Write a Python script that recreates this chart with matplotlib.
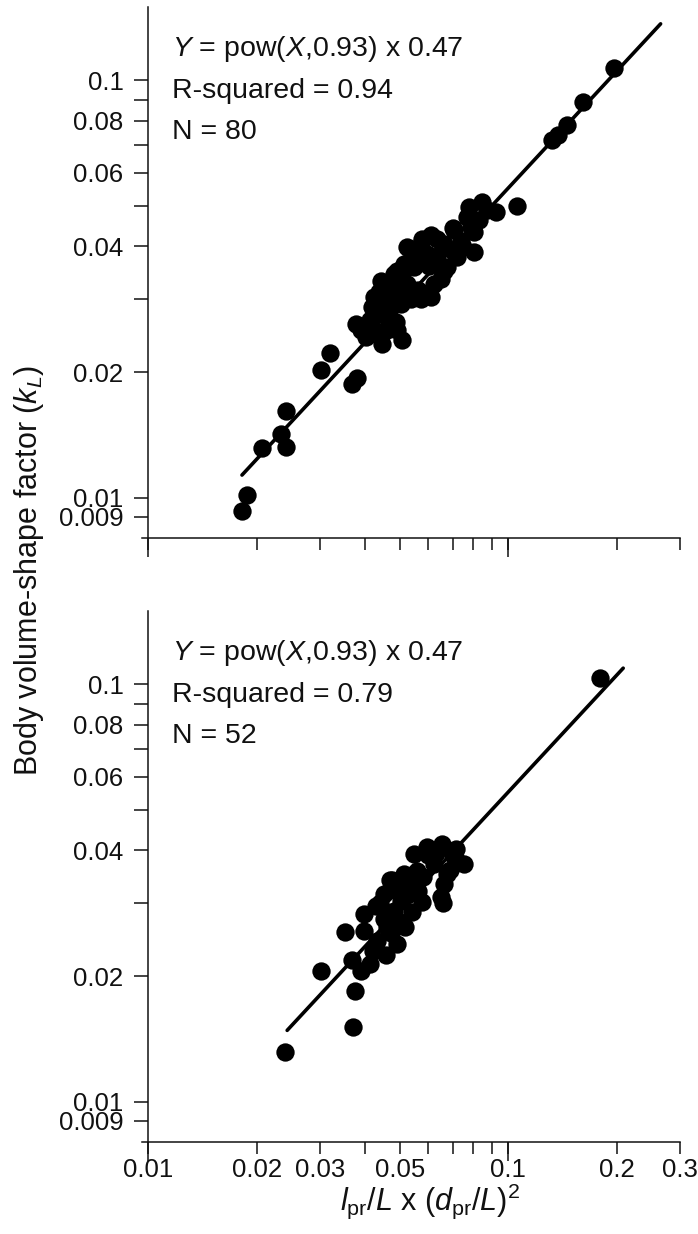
import numpy as np
import matplotlib
matplotlib.use("Agg")
import matplotlib.pyplot as plt
from matplotlib.ticker import FixedLocator, FixedFormatter, NullFormatter

plt.rcParams['font.family'] = ['Liberation Sans', 'DejaVu Sans']
plt.rcParams['mathtext.fontset'] = 'custom'
plt.rcParams['mathtext.rm'] = 'Liberation Sans'
plt.rcParams['mathtext.it'] = 'Liberation Sans:italic'
plt.rcParams['mathtext.bf'] = 'Liberation Sans:bold'

# ---------------- data ----------------
top_x = [0.01824, 0.01876, 0.02073, 0.0233, 0.02406, 0.02406, 0.0301, 0.0319, 0.0369, 0.0381,
         0.1965, 0.1611, 0.1452, 0.1325, 0.1373,
         0.1059, 0.0777, 0.0847, 0.0922, 0.0829, 0.0802, 0.0706, 0.0802, 0.0635, 0.0571,
         0.0560, 0.0706, 0.0662, 0.0649, 0.0602, 0.0571, 0.0608, 0.0571, 0.0535, 0.0481,
         0.0508, 0.0471, 0.0523, 0.0437, 0.0419, 0.0451, 0.0377, 0.0402, 0.0447, 0.0508,
         0.0486, 0.0461,
         0.0700, 0.0769, 0.0737, 0.0750, 0.0635, 0.0596, 0.0541, 0.0547, 0.0677, 0.0513,
         0.0492, 0.0560, 0.0596, 0.0513, 0.0481, 0.0502, 0.0471, 0.0423, 0.0433, 0.0461,
         0.0423, 0.0389, 0.0414, 0.0492, 0.0874, 0.0524, 0.0577, 0.0608, 0.0662, 0.0786,
         0.0722, 0.0621, 0.0442]
top_y = [0.00931, 0.01017, 0.01316, 0.01421, 0.01320, 0.01617, 0.0202, 0.0222, 0.0187, 0.0193,
         0.1070, 0.0887, 0.0784, 0.0721, 0.0742,
         0.0501, 0.0497, 0.0511, 0.0483, 0.0462, 0.0433, 0.0437, 0.0388, 0.0417, 0.0406,
         0.0395, 0.0388, 0.0350, 0.0335, 0.0360, 0.0367, 0.0302, 0.0300, 0.0300, 0.0344,
         0.0344, 0.0325, 0.0325, 0.0311, 0.0286, 0.0289, 0.0261, 0.0242, 0.0234, 0.0238,
         0.0263, 0.0271,
         0.0444, 0.0470, 0.0413, 0.0398, 0.0380, 0.0384, 0.0380, 0.0357, 0.0357, 0.0363,
         0.0350, 0.0314, 0.0308, 0.0314, 0.0308, 0.0291, 0.0286, 0.0302, 0.0276, 0.0252,
         0.0252, 0.0252, 0.0266, 0.0252, 0.0488, 0.0398, 0.0417, 0.0425, 0.0406, 0.0445,
         0.0377, 0.0325, 0.0331]

bot_x = [0.1797, 0.02395, 0.0301, 0.0371, 0.0375, 0.0389, 0.0369, 0.0352, 0.0397, 0.0397,
         0.0428, 0.0451, 0.0476, 0.0513, 0.0559, 0.0547, 0.0596, 0.0656, 0.0714, 0.0753,
         0.0721, 0.0677, 0.0662, 0.0649, 0.0621, 0.0577, 0.0541, 0.0524, 0.0502, 0.0518,
         0.0492, 0.0456, 0.0433, 0.0471, 0.0414, 0.0461, 0.0451, 0.0481, 0.0502, 0.0492,
         0.0660, 0.0700, 0.0630, 0.0580, 0.0540, 0.0440, 0.0420, 0.0500, 0.0470, 0.0560,
         0.0690, 0.0600]
bot_y = [0.1034, 0.01317, 0.02053, 0.01507, 0.01845, 0.0206, 0.0218, 0.02557, 0.0257, 0.0282,
         0.0295, 0.0315, 0.0339, 0.0352, 0.0358, 0.0393, 0.0408, 0.0415, 0.0404, 0.0372,
         0.0378, 0.0352, 0.0333, 0.0309, 0.0372, 0.0301, 0.0285, 0.0312, 0.0333, 0.0262,
         0.0239, 0.0224, 0.0243, 0.0253, 0.0214, 0.0262, 0.0274, 0.0287, 0.0303, 0.0320,
         0.0300, 0.0390, 0.0395, 0.0345, 0.0330, 0.0300, 0.0230, 0.0270, 0.0340, 0.0320,
         0.0360, 0.0390]

fit_coef = 0.47
fit_exp = 0.93
top_fit_x = [0.0182, 0.265]
bot_fit_x = [0.0243, 0.2086]

top_text = [r"$Y$ = pow($X$,0.93) x 0.47", "R-squared = 0.94", "N = 80"]
bot_text = [r"$Y$ = pow($X$,0.93) x 0.47", "R-squared = 0.79", "N = 52"]

xtick_vals = [0.01, 0.02, 0.03, 0.04, 0.05, 0.06, 0.07, 0.08, 0.09, 0.1, 0.2, 0.3]
xtick_labels = ['0.01', '0.02', '0.03', '', '0.05', '', '', '', '', '0.1', '0.2', '0.3']
xtick_long = [0.01, 0.1]
ytick_vals = [0.009, 0.01, 0.02, 0.03, 0.04, 0.05, 0.06, 0.07, 0.08, 0.09, 0.1]
ytick_labels = ['0.009', '0.01', '0.02', '', '0.04', '', '0.06', '', '0.08', '', '0.1']

# ---------------- figure ----------------
W, H = 698, 1234
fig = plt.figure(figsize=(W / 100, H / 100), dpi=100)
ink = '#111111'

def make_axes(top_px, bottom_px, xs, ys, fitx, texts, show_xlabels):
    ax = fig.add_axes([142 / W, 1 - bottom_px / H, (680 - 142) / W, (bottom_px - top_px) / H])
    ax.set_xscale('log')
    ax.set_yscale('log')
    ax.set_xlim(0.0096, 0.3)
    ax.set_ylim(0.008, 0.15)
    for s in ['top', 'right']:
        ax.spines[s].set_visible(False)
    ax.spines['left'].set_position(('data', 0.01))
    for s in ['left', 'bottom']:
        ax.spines[s].set_linewidth(1.1)
        ax.spines[s].set_color(ink)
    ax.patch.set_alpha(0)

    ax.xaxis.remove_overlapping_locs = False
    ax.yaxis.remove_overlapping_locs = False
    ax.xaxis.set_major_locator(FixedLocator(xtick_vals))
    if show_xlabels:
        ax.xaxis.set_major_formatter(FixedFormatter(xtick_labels))
    else:
        ax.xaxis.set_major_formatter(NullFormatter())
    ax.xaxis.set_minor_locator(FixedLocator(xtick_long))
    ax.xaxis.set_minor_formatter(NullFormatter())
    ax.yaxis.set_major_locator(FixedLocator(ytick_vals))
    ax.yaxis.set_major_formatter(FixedFormatter(ytick_labels))
    ax.yaxis.set_minor_locator(FixedLocator([]))
    ax.yaxis.set_minor_formatter(NullFormatter())

    ax.tick_params(axis='x', which='major', direction='out', length=8.6, width=1.1,
                   color=ink, labelcolor=ink, labelsize=18.5, pad=3)
    ax.tick_params(axis='x', which='minor', direction='out', length=13.7, width=1.1, color=ink)
    ax.tick_params(axis='y', which='major', direction='out', length=10, width=1.1,
                   color=ink, labelcolor=ink, labelsize=18.5, pad=8)

    fx = np.array(fitx)
    ax.plot(fx, fit_coef * fx ** fit_exp, color='black', lw=2.6, solid_capstyle='round', zorder=2)
    ax.scatter(xs, ys, s=13.2 ** 2, color='black', linewidths=0, zorder=3, clip_on=False)

    base = [top_px + 49, top_px + 91, top_px + 132]
    for t, b in zip(texts, base):
        fig.text(172 / W, 1 - b / H, t, fontsize=20.5, color=ink, ha='left', va='baseline')
    return ax

make_axes(7, 538, top_x, top_y, top_fit_x, top_text, False)
make_axes(611, 1142, bot_x, bot_y, bot_fit_x, bot_text, True)

fig.text(29 / W, 1 - 570 / H, r"Body volume-shape factor ($k_L$)", rotation=90,
         ha='center', va='center', fontsize=22, color=ink)
fig.text(430 / W, 1 - 1210 / H, r"$l_{\mathrm{pr}}/L$ x ($d_{\mathrm{pr}}/L$)$^2$",
         ha='center', va='baseline', fontsize=22, color=ink)

fig.savefig('out.png', dpi=100)
